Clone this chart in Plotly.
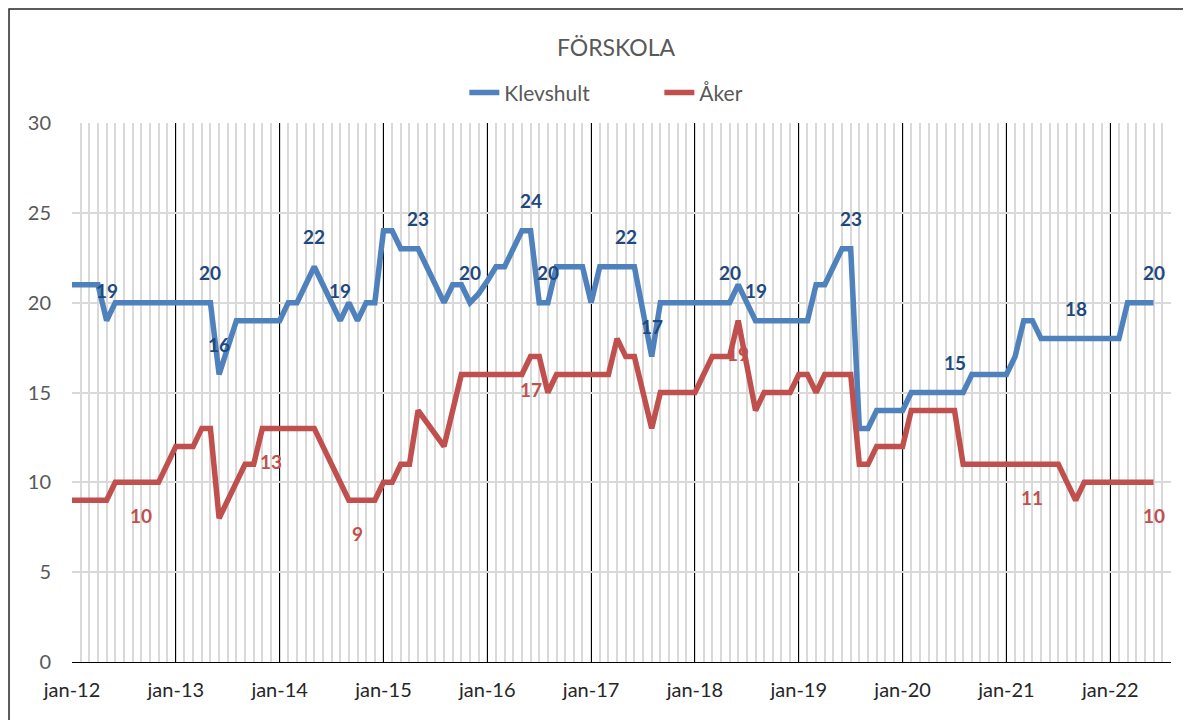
import plotly.graph_objects as go

# Month categories jan-12 .. jun-22
month_names = ["jan", "feb", "mar", "apr", "maj", "jun", "jul", "aug", "sep", "okt", "nov", "dec"]
months = [f"{m}-{y:02d}" for y in range(12, 23) for m in month_names][:126]

tick_labels = ["jan-12", "jan-13", "jan-14", "jan-15", "jan-16", "jan-17",
               "jan-18", "jan-19", "jan-20", "jan-21", "jan-22"]

# Klevshult (blue), one value per month
klevshult = [
    21, 21, 21, 21, 19, 20, 20, 20, 20, 20, 20, 20,        # 2012
    20, 20, 20, 20, 20, 16, 17.5, 19, 19, 19, 19, 19,      # 2013
    19, 20, 20, 21, 22, 21, 20, 19, 20, 19, 20, 20,        # 2014
    24, 24, 23, 23, 23, 22, 21, 20, 21, 21, 20, 20.5,      # 2015
    21.2, 22, 22, 23, 24, 24, 20, 20, 22, 22, 22, 22,      # 2016
    20, 22, 22, 22, 22, 22, 19.5, 17, 20, 20, 20, 20,      # 2017
    20, 20, 20, 20, 20, 21, 20, 19, 19, 19, 19, 19,        # 2018
    19, 19, 21, 21, 22, 23, 23, 13, 13, 14, 14, 14,        # 2019
    14, 15, 15, 15, 15, 15, 15, 15, 16, 16, 16, 16,        # 2020
    16, 17, 19, 19, 18, 18, 18, 18, 18, 18, 18, 18,        # 2021
    18, 18, 20, 20, 20, 20,                                # 2022
]

# Åker (red)
aker = [
    9, 9, 9, 9, 9, 10, 10, 10, 10, 10, 10, 11,             # 2012
    12, 12, 12, 13, 13, 8, 9, 10, 11, 11, 13, 13,          # 2013
    13, 13, 13, 13, 13, 12, 11, 10, 9, 9, 9, 9,            # 2014
    10, 10, 11, 11, 14, 13.3, 12.7, 12, 14, 16, 16, 16,    # 2015
    16, 16, 16, 16, 16, 17, 17, 15, 16, 16, 16, 16,        # 2016
    16, 16, 16, 18, 17, 17, 15, 13, 15, 15, 15, 15,        # 2017
    15, 16, 17, 17, 17, 19, 16.5, 14, 15, 15, 15, 15,      # 2018
    16, 16, 15, 16, 16, 16, 16, 11, 11, 12, 12, 12,        # 2019
    12, 14, 14, 14, 14, 14, 14, 11, 11, 11, 11, 11,        # 2020
    11, 11, 11, 11, 11, 11, 11, 10, 9, 10, 10, 10,         # 2021
    10, 10, 10, 10, 10, 10,                                # 2022
]

# months that carry a data label
klevshult_labels = ["maj-12", "maj-13", "jun-13", "maj-14", "aug-14", "maj-15", "nov-15",
                    "jun-16", "aug-16", "maj-17", "aug-17", "maj-18", "aug-18", "jul-19",
                    "jul-20", "sep-21", "jun-22"]
aker_labels = ["sep-12", "dec-13", "okt-14", "jun-16", "jun-18", "apr-21", "jun-22"]

BLUE = "#4f81bd"
RED = "#c0504d"
FONT = "Lato"

x = list(range(len(months)))

fig = go.Figure()
fig.add_trace(go.Scatter(x=x, y=klevshult, name="Klevshult", mode="lines",
                         line=dict(color=BLUE, width=5.5), customdata=months,
                         hovertemplate="%{customdata}: %{y}<extra>Klevshult</extra>"))
fig.add_trace(go.Scatter(x=x, y=aker, name="Åker", mode="lines",
                         line=dict(color=RED, width=5.5), customdata=months,
                         hovertemplate="%{customdata}: %{y}<extra>Åker</extra>"))

annotations = []
for m in klevshult_labels:
    i = months.index(m)
    annotations.append(dict(x=i, y=klevshult[i], text=f"{klevshult[i]:g}", showarrow=False,
                            yshift=30, font=dict(family=FONT, size=19, color="#1f497d", weight="bold")))
for m in aker_labels:
    i = months.index(m)
    annotations.append(dict(x=i, y=aker[i], text=f"{aker[i]:g}", showarrow=False,
                            yshift=-33, font=dict(family=FONT, size=19, color=RED, weight="bold")))

# the page body adds an 8px offset, so the figure is 8px smaller than the window
fig.update_layout(
    width=1183, height=712,
    margin=dict(l=64, r=20, t=115, b=58, autoexpand=False),
    paper_bgcolor="white", plot_bgcolor="white",
    font=dict(family=FONT, color="#595959"),
    title=dict(text="FÖRSKOLA", x=0.495, xref="paper", xanchor="center",
               y=1 - 40 / 712, yanchor="middle",
               font=dict(family=FONT, size=23, color="#595959")),
    legend=dict(orientation="h", x=0.357, xanchor="left", y=1.056, yanchor="middle",
                entrywidth=150, font=dict(family=FONT, size=21, color="#595959"),
                bgcolor="rgba(0,0,0,0)"),
    annotations=annotations,
    showlegend=True,
    shapes=[dict(type="rect", xref="paper", yref="paper",
                 x0=-0.0573, x1=1.0155, y0=-0.13, y1=1.2115,
                 line=dict(color="#262626", width=1.5), layer="below")],
)

fig.update_xaxes(
    range=[0, 127.02],
    tickmode="array",
    tickvals=[months.index(t) for t in tick_labels],
    ticktext=tick_labels,
    showgrid=True, gridcolor="black", gridwidth=1,
    minor=dict(tickmode="linear", tick0=0, dtick=1, showgrid=True,
               gridcolor="#d9d9d9", gridwidth=2),
    showline=True, linecolor="black", linewidth=1,
    zeroline=False, ticks="", automargin=False,
    tickfont=dict(family=FONT, size=20, color="#262626"),
    ticklabelstandoff=10,
)
fig.update_yaxes(
    range=[0, 30], dtick=5,
    showgrid=True, gridcolor="#d9d9d9", gridwidth=2,
    zeroline=False, showline=False, ticks="", automargin=False,
    tickfont=dict(family=FONT, size=20, color="#595959"),
    ticklabelstandoff=20,
)

fig.write_html("out.html")
